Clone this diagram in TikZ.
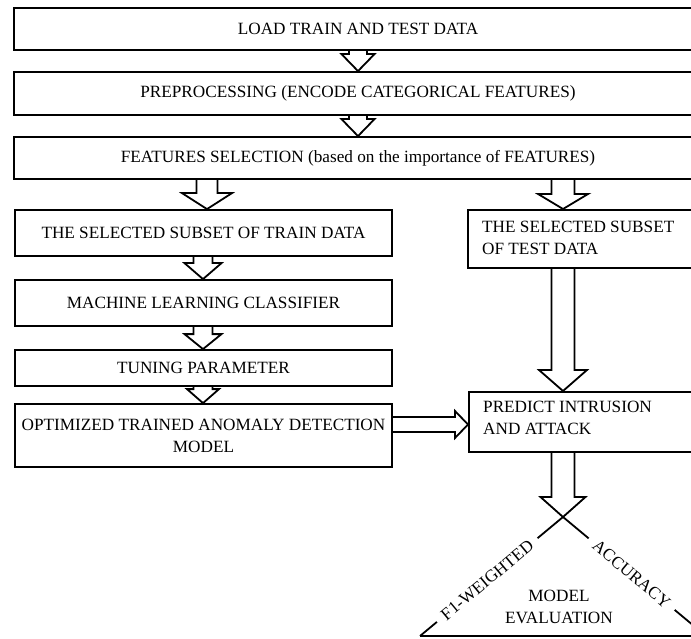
\documentclass[tikz,border=0pt]{standalone}
\usepackage{fontspec}
\setmainfont{Liberation Serif}
\usetikzlibrary{calc}
\tikzset{
  boxnode/.style={draw, line width=1.8pt, rectangle, inner sep=0pt, font=\fontsize{17.2}{22}\selectfont},
  txt/.style={inner sep=0pt, align=left, font=\fontsize{17.2}{22}\selectfont},
  blk/.style={draw, line width=1.8pt, line join=miter},
  triline/.style={line width=1.8pt},
  lbl/.style={fill=white, inner xsep=8pt, inner ysep=1pt, sloped, font=\fontsize{17.2}{22}\selectfont}
}
\newcommand{\vblock}[5]{%
  \draw[blk] let \p1=(#1), \p2=(#2) in
   ({\x1-#3pt},\y1) -- ({\x1-#3pt},{\y2+#5pt}) -- ({\x1-#4pt},{\y2+#5pt}) -- (\x1,\y2)
   -- ({\x1+#4pt},{\y2+#5pt}) -- ({\x1+#3pt},{\y2+#5pt}) -- ({\x1+#3pt},\y1);}
\newcommand{\hblock}[5]{%
  \draw[blk] let \p1=(#1), \p2=(#2) in
   (\x1,{\y1+#3pt}) -- ({\x2-#5pt},{\y1+#3pt}) -- ({\x2-#5pt},{\y1+#4pt}) -- (\x2,\y1)
   -- ({\x2-#5pt},{\y1-#4pt}) -- ({\x2-#5pt},{\y1-#3pt}) -- (\x1,{\y1-#3pt});}
\begin{document}
\begin{tikzpicture}[x=1pt,y=-1pt]
\useasboundingbox (0,0) rectangle (691,639);
% top full-width boxes
\node[boxnode, minimum width=688pt, minimum height=42pt] (load) at (358,29) {LOAD TRAIN AND TEST DATA};
\node[boxnode, minimum width=688pt, minimum height=43pt] (prep) at (358,93.5) {PREPROCESSING (ENCODE CATEGORICAL FEATURES)};
\node[boxnode, minimum width=688pt, minimum height=42pt] (feat) at (358,158) {FEATURES SELECTION (based on the importance of FEATURES)};
% left column
\node[boxnode, minimum width=377pt, minimum height=46pt] (train) at (203.5,233) {THE SELECTED SUBSET OF TRAIN DATA};
\node[boxnode, minimum width=377pt, minimum height=46pt] (mlc) at (203.5,303) {MACHINE LEARNING CLASSIFIER};
\node[boxnode, minimum width=377pt, minimum height=36pt] (tune) at (203.5,368) {TUNING PARAMETER};
\node[boxnode, minimum width=377pt, minimum height=63pt, align=center] (opt) at (203.5,435.5) {OPTIMIZED TRAINED ANOMALY DETECTION\\MODEL};
% right column
\node[boxnode, anchor=north west, minimum width=260pt, minimum height=58pt] (test) at (467,209) {};
\node[txt, anchor=west] (testtxt) at (482,238) {THE SELECTED SUBSET\\OF TEST DATA};
\node[boxnode, anchor=north west, minimum width=260pt, minimum height=60pt] (pred) at (468,391) {};
\node[txt, anchor=west] (predtxt) at (483,418) {PREDICT INTRUSION\\AND ATTACK};
% arrow axes
\coordinate (xa) at (358,0);
\coordinate (xl1) at (207,0);
\coordinate (xl) at (203,0);
\coordinate (xr) at (563,0);
\coordinate (yh) at (0,424.5);
\coordinate (apex) at (563,517);
\coordinate (tl) at (420,636);
\coordinate (tr) at (706,636);
% block arrows
\vblock{load.south -| xa}{prep.north -| xa}{9}{16.5}{17}
\vblock{prep.south -| xa}{feat.north -| xa}{9}{16.5}{17}
\vblock{feat.south -| xl1}{train.north -| xl1}{10.5}{25}{16}
\vblock{feat.south -| xr}{test.north -| xr}{11.5}{25}{15}
\vblock{train.south -| xl}{mlc.north -| xl}{9.5}{18.5}{16}
\vblock{mlc.south -| xl}{tune.north -| xl}{9.5}{18.5}{15}
\vblock{tune.south -| xl}{opt.north -| xl}{9.5}{16}{14}
\vblock{test.south -| xr}{pred.north -| xr}{11.5}{24}{21}
\hblock{opt.east |- yh}{pred.west |- yh}{7.5}{13.5}{13}
\vblock{pred.south -| apex}{apex}{11.5}{22.5}{20}
% evaluation triangle
\draw[triline] (tl) -- node[lbl, pos=0.47] {F1-WEIGHTED} (apex);
\draw[triline] (apex) -- node[lbl, pos=0.48] {ACCURACY} (tr);
\draw[triline] (tl) -- (tr);
\node[txt, align=center] (eval) at (559,607) {MODEL\\EVALUATION};
\end{tikzpicture}
\end{document}
